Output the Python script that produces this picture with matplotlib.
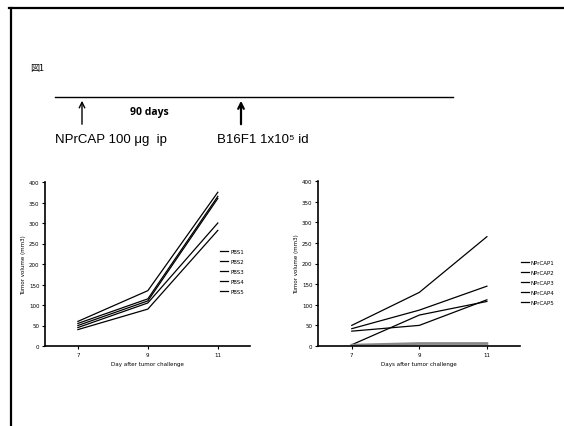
import matplotlib
matplotlib.use("Agg")
import matplotlib.pyplot as plt

# data
days = ["7", "9", "11"]
pbs_labels = ["PBS1", "PBS2", "PBS3", "PBS4", "PBS5"]
pbs1 = [60, 135, 375]
pbs2 = [55, 115, 365]
pbs3 = [50, 110, 360]
pbs4 = [45, 105, 300]
pbs5 = [40, 90, 282]
cap_labels = ["NPrCAP1", "NPrCAP2", "NPrCAP3", "NPrCAP4", "NPrCAP5"]
cap1 = [50, 130, 265]
cap2 = [42, 87, 145]
cap3 = [36, 50, 112]
cap4 = [3, 75, 108]
cap5 = [2, 6, 6]
yticks = [0, 50, 100, 150, 200, 250, 300, 350, 400]

W, H = 564, 427
fig = plt.figure(figsize=(W / 100, H / 100), dpi=100)

# overlay in pixel coords for the frame / timeline
ov = fig.add_axes([0, 0, 1, 1])
ov.set_xlim(0, W)
ov.set_ylim(H, 0)
ov.axis("off")
ov.plot([9, W], [9, 9], color="black", lw=1.6)
ov.plot([11, 11], [9, H], color="black", lw=1.6)
ov.text(30, 69, "図1", fontsize=6.5, va="center", ha="left",
        family=["Noto Sans CJK JP", "DejaVu Sans"])
ov.plot([55, 453], [98, 98], color="black", lw=1.0)
ov.annotate("", xy=(82, 99), xytext=(82, 128),
            arrowprops=dict(arrowstyle="->", lw=1.0, color="black"))
ov.annotate("", xy=(241, 99), xytext=(241, 128),
            arrowprops=dict(arrowstyle="->", lw=1.6, color="black"))
ov.text(130, 112, "90 days", fontsize=7.5, fontweight="bold",
        family="Open Sans", va="center", ha="left")
ov.text(55, 140, "NPrCAP 100 \u03bcg  ip", fontsize=9.5,
        family="Liberation Sans", va="center", ha="left")
ov.text(217, 140, "B16F1 1x10\u2075 id", fontsize=9.5,
        family=["Liberation Sans", "DejaVu Sans"], va="center", ha="left")


def make_axes(rect, xlim):
    ax = fig.add_axes(rect)
    ax.set_xlim(*xlim)
    ax.set_ylim(0, 400)
    ax.set_yticks(yticks)
    ax.set_xticks(range(len(days)))
    ax.set_xticklabels(days)
    for s in ["top", "right"]:
        ax.spines[s].set_visible(False)
    ax.spines["left"].set_linewidth(1.2)
    ax.spines["bottom"].set_linewidth(1.2)
    ax.tick_params(labelsize=4, length=2, width=0.8, pad=2)
    return ax


ax1 = make_axes([45 / W, 1 - 347 / H, 205 / W, 164 / H], (-0.47, 2.46))
for lab, vals in zip(pbs_labels, [pbs1, pbs2, pbs3, pbs4, pbs5]):
    ax1.plot(range(len(days)), vals, color="black", lw=0.9, label=lab)
ax1.set_xlabel("Day after tumor challenge", fontsize=4, labelpad=3)
ax1.set_ylabel("Tumor volume (mm3)", fontsize=4, labelpad=2)
ax1.legend(loc="upper left", bbox_to_anchor=(0.83, 0.62), frameon=False,
           fontsize=4, handlelength=1.5, handletextpad=0.3, labelspacing=0.9)

ax2 = make_axes([318 / W, 1 - 347 / H, 202 / W, 165 / H], (-0.5, 2.49))
colors = ["black", "black", "black", "black", "#888888"]
widths = [0.9, 0.9, 0.9, 0.9, 2.0]
for lab, vals, c, w in zip(cap_labels, [cap1, cap2, cap3, cap4, cap5], colors, widths):
    ax2.plot(range(len(days)), vals, color=c, lw=w, label=lab)
ax2.set_xlabel("Days after tumor challenge", fontsize=4, labelpad=3)
ax2.set_ylabel("Tumor volume (mm3)", fontsize=4, labelpad=2)
leg = ax2.legend(loc="upper left", bbox_to_anchor=(0.98, 0.55), frameon=False,
                 fontsize=4, handlelength=1.5, handletextpad=0.3, labelspacing=0.9)
for h in leg.get_lines():
    h.set_color("black")
    h.set_linewidth(0.9)

fig.savefig("out.png", dpi=100)
